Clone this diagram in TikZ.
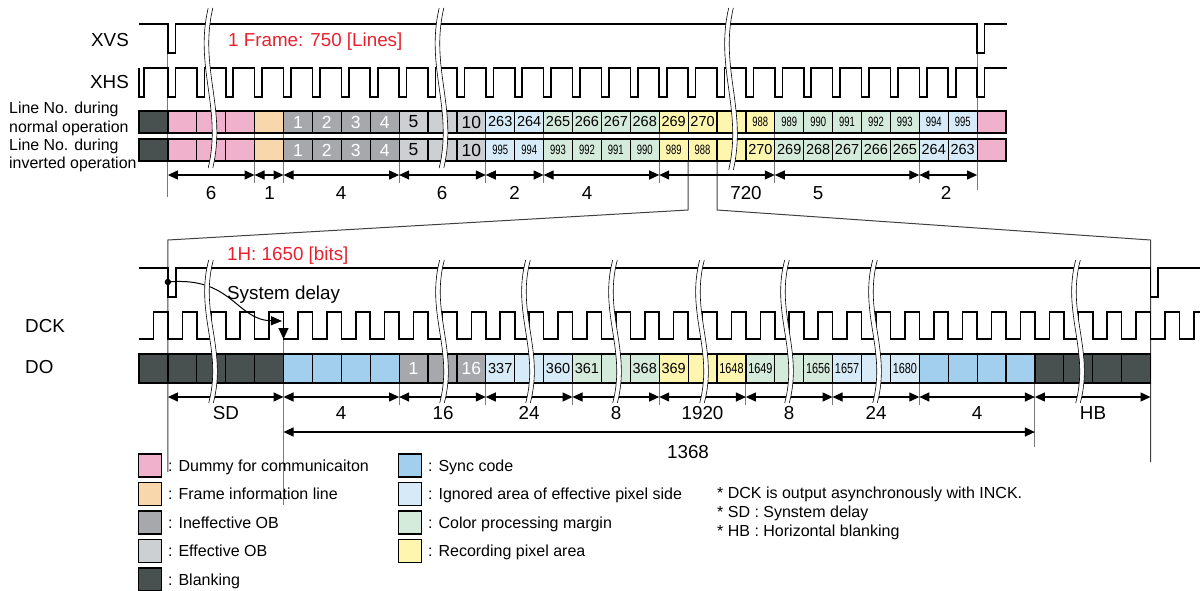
\documentclass[tikz,border=0pt]{standalone}
\usepackage{fontspec}
\setmainfont{Liberation Sans}
\usepackage{graphicx}
\usetikzlibrary{arrows.meta}
\definecolor{cBlank}{HTML}{495150}
\definecolor{cPink}{HTML}{F0B1CC}
\definecolor{cFrame}{HTML}{F8D7AC}
\definecolor{cIneff}{HTML}{A6A8AB}
\definecolor{cEff}{HTML}{CDD0D3}
\definecolor{cSync}{HTML}{A3CFEF}
\definecolor{cIgn}{HTML}{D6EBF7}
\definecolor{cCol}{HTML}{D4EADA}
\definecolor{cRec}{HTML}{FEF6AF}
\definecolor{cRed}{HTML}{E8202E}
\definecolor{cGuide}{HTML}{7A7A7A}
\newcommand\fs[1]{\fontsize{#1}{#1}\selectfont}
\newcommand\numN[1]{{\fs{14.5}#1}}
\newcommand\numC[1]{\scalebox{0.7}[1]{\fs{13.5}#1}}
\newcommand\numD[1]{\scalebox{0.75}[1]{\fs{14.5}#1}}
\newcommand\numW[1]{{\fs{17.5}\color{white}#1}}
\newcommand\numB[1]{{\fs{17.5}#1}}
\newcommand\brkmark[3]{%
  \pgfmathsetmacro\bA{#2+0.37*(#3-#2)}%
  \pgfmathsetmacro\bB{#2+0.63*(#3-#2)}%
  \draw[white, line width=4.6pt] (#1,#2) .. controls ({#1-14},\bA) and ({#1+14},\bB) .. (#1,#3);
  \draw[black, line width=0.6pt] ({#1-2.3},#2) .. controls ({#1-16.3},\bA) and ({#1+11.7},\bB) .. ({#1-2.3},#3);
  \draw[black, line width=0.6pt] ({#1+2.3},#2) .. controls ({#1-11.7},\bA) and ({#1+16.3},\bB) .. ({#1+2.3},#3);
}
\begin{document}
\begin{tikzpicture}[x=1pt,y=-1pt,
  sig/.style={line width=1.6pt},
  cellbox/.style={draw, line width=1.2pt, inner sep=0pt, outer sep=0pt, minimum width=28.9pt, anchor=north west},
  rowframe/.style={draw, line width=1.7pt},
  dimarrow/.style={line width=1.2pt, {Triangle[length=10pt,width=9pt]}-{Triangle[length=10pt,width=9pt]}},
  guide/.style={draw=cGuide, line width=1.1pt},
  zoomline/.style={draw=black!75, line width=1pt},
  txtbig/.style={font=\fs{18.8}, inner sep=0pt, text height=13.4pt, text depth=0pt},
  txtmid/.style={font=\fs{16}, inner sep=0pt, text height=11.5pt, text depth=0pt},
  txtsm/.style={font=\fs{15.9}, inner sep=0pt, text height=11.4pt, text depth=0pt},
  legsq/.style={draw, line width=1.5pt, minimum size=23pt, inner sep=0pt},
]
\useasboundingbox (0,0) rectangle (1200,590);

% ---------- guide lines (behind) ----------
\foreach \x in {254.6,283.5,399.1,485.8,543.6,659.2,774.8,919.3}
  {\draw[guide] (\x,111) -- (\x,183);}
\draw[guide] (167.9,53) -- (167.9,197);
\draw[guide] (977.1,53) -- (977.1,190);

\coordinate (zl0) at (688.1,161);
\coordinate (zl1) at (688.1,210);
\coordinate (zl2) at (167.9,240);
\coordinate (zl3) at (167.9,472);
\coordinate (zr0) at (717,161);
\coordinate (zr1) at (717,210);
\coordinate (zr2) at (1150.5,240);
\coordinate (zr3) at (1150.5,462);
\draw[zoomline] (zl0) -- (zl1) -- (zl2) -- (zl3);
\draw[zoomline] (zr0) -- (zr1) -- (zr2) -- (zr3);

\foreach \x in {399.1,485.8,572.5,659.2,745.9,832.6,919.3}
  {\draw[guide] (\x,383) -- (\x,405);}
\draw[guide] (1034.9,383) -- (1034.9,447);
\draw[guide] (283.5,312) -- (283.5,505);

% ---------- labels ----------
\node[txtbig, anchor=east] (lxvs) at (129,40) {XVS};
\node[txtbig, anchor=east] (lxhs) at (129,82) {XHS};
\node[txtbig, anchor=west, text=cRed] (lframe) at (228,40) {1 Frame: 750 [Lines]};
\node[txtsm, anchor=west] (ln1) at (9,108) {Line No. during};
\node[txtsm, anchor=west] (ln2) at (9,127) {normal operation};
\node[txtsm, anchor=west] (ln3) at (9,145) {Line No. during};
\node[txtsm, anchor=west] (ln4) at (9,163) {inverted operation};
\node[txtbig, anchor=west] (ldck) at (25,326) {DCK};
\node[txtbig, anchor=west] (ldo) at (25,367) {DO};
\node[txtbig, anchor=west, text=cRed] (l1h) at (227,254) {1H: 1650 [bits]};
\node[txtbig, anchor=west] (lsd) at (227,293) {System delay};

% ---------- top signals ----------
\draw[sig] (139,24) -- (167.9,24) -- (167.9,53) -- (175.5,53) -- (175.5,24) -- (977.1,24) -- (977.1,53) -- (984.6,53) -- (984.6,24) -- (1006.7,24);
\draw[sig] (139,68) -- (139,97) -- (144,97) -- (144,68)
  \foreach \k in {1,...,29} { -- ({139+28.9*\k},68) -- ({139+28.9*\k},97) -- ({146.5+28.9*\k},97) -- ({146.5+28.9*\k},68) }
  -- (1006.7,68);

% ---------- top rows ----------
\foreach \i/\cl/\tx in {0/cBlank/{}, 1/cPink/{}, 2/cPink/{}, 3/cPink/{}, 4/cFrame/{},
  5/cIneff/\numW{1}, 6/cIneff/\numW{2}, 7/cIneff/\numW{3}, 8/cIneff/\numW{4},
  9/cEff/\numB{5}, 10/cEff/{}, 11/cEff/\numB{10},
  12/cIgn/\numN{263}, 13/cIgn/\numN{264},
  14/cCol/\numN{265}, 15/cCol/\numN{266}, 16/cCol/\numN{267}, 17/cCol/\numN{268},
  18/cRec/\numN{269}, 19/cRec/\numN{270}, 20/cRec/{}, 21/cRec/\numC{988},
  22/cCol/\numC{989}, 23/cCol/\numC{990}, 24/cCol/\numC{991}, 25/cCol/\numC{992}, 26/cCol/\numC{993},
  27/cIgn/\numC{994}, 28/cIgn/\numC{995}, 29/cPink/{}}
  {\node[cellbox, minimum height=22pt, fill=\cl] (a\i) at ({139+28.9*\i},111) {\tx};}
\draw[rowframe] (a0.north west) rectangle (a29.south east);

\foreach \i/\cl/\tx in {0/cBlank/{}, 1/cPink/{}, 2/cPink/{}, 3/cPink/{}, 4/cFrame/{},
  5/cIneff/\numW{1}, 6/cIneff/\numW{2}, 7/cIneff/\numW{3}, 8/cIneff/\numW{4},
  9/cEff/\numB{5}, 10/cEff/{}, 11/cEff/\numB{10},
  12/cIgn/\numC{995}, 13/cIgn/\numC{994},
  14/cCol/\numC{993}, 15/cCol/\numC{992}, 16/cCol/\numC{991}, 17/cCol/\numC{990},
  18/cRec/\numC{989}, 19/cRec/\numC{988}, 20/cRec/{}, 21/cRec/\numN{270},
  22/cCol/\numN{269}, 23/cCol/\numN{268}, 24/cCol/\numN{267}, 25/cCol/\numN{266}, 26/cCol/\numN{265},
  27/cIgn/\numN{264}, 28/cIgn/\numN{263}, 29/cPink/{}}
  {\node[cellbox, minimum height=22pt, fill=\cl] (b\i) at ({139+28.9*\i},139) {\tx};}
\draw[rowframe] (b0.north west) rectangle (b29.south east);

% ---------- top dimensions ----------
\foreach \n/\x in {ta/167.9, tb/254.6, tc/283.5, td/399.1, te/485.8, tf/543.6, tg/659.2, th/774.8, ti/919.3, tj/977.1}
  {\coordinate (\n) at (\x,175);}
\draw[dimarrow] (ta) -- (tb);
\draw[dimarrow] (tb) -- (tc);
\draw[dimarrow] (tc) -- (td);
\draw[dimarrow] (td) -- (te);
\draw[dimarrow] (te) -- (tf);
\draw[dimarrow] (tf) -- (tg);
\draw[dimarrow] (tg) -- (th);
\draw[dimarrow] (th) -- (ti);
\draw[dimarrow] (ti) -- (tj);
\node[txtbig] (dt1) at (211,193) {6};
\node[txtbig] (dt2) at (269.5,193) {1};
\node[txtbig] (dt3) at (341,193) {4};
\node[txtbig] (dt4) at (442,193) {6};
\node[txtbig] (dt5) at (514.7,193) {2};
\node[txtbig] (dt6) at (587,193) {4};
\node[txtbig] (dt7) at (746,193) {720};
\node[txtbig] (dt8) at (818,193) {5};
\node[txtbig] (dt9) at (946,193) {2};

% ---------- bottom signals ----------
\draw[sig] (139,268) -- (167.9,268) -- (167.9,297) -- (175.7,297) -- (175.7,268) -- (1150.5,268) -- (1150.5,297) -- (1158,297) -- (1158,268) -- (1200,268);
\draw[sig] (139,339)
  \foreach \k in {0,...,35} { -- ({153.45+28.9*\k},339) -- ({153.45+28.9*\k},312) -- ({167.9+28.9*\k},312) -- ({167.9+28.9*\k},339) }
  -- (1193.85,339) -- (1193.85,312) -- (1200,312);

\coordinate (sdstart) at (167.9,282);
\coordinate (sdend) at (282,321);
\fill (sdstart) circle (3.2pt);
\draw[line width=1pt, -{Triangle[length=11pt,width=9pt]}] (sdstart) .. controls (232,276) and (236,320) .. (sdend);
\coordinate (edgeTop) at (283.5,312);
\coordinate (edgeBot) at (283.5,339);
\draw[line width=1.2pt, -{Triangle[length=11pt,width=10pt]}] (edgeTop) -- (edgeBot);

% ---------- DO row ----------
\foreach \i/\cl/\tx in {0/cBlank/{}, 1/cBlank/{}, 2/cBlank/{}, 3/cBlank/{}, 4/cBlank/{},
  5/cSync/{}, 6/cSync/{}, 7/cSync/{}, 8/cSync/{},
  9/cIneff/\numW{1}, 10/cIneff/{}, 11/cIneff/\numW{16},
  12/cIgn/\numN{337}, 13/cIgn/{}, 14/cIgn/\numN{360},
  15/cCol/\numN{361}, 16/cCol/{}, 17/cCol/\numN{368},
  18/cRec/\numN{369}, 19/cRec/{}, 20/cRec/\numD{1648},
  21/cCol/\numD{1649}, 22/cCol/{}, 23/cCol/\numD{1656},
  24/cIgn/\numD{1657}, 25/cIgn/{}, 26/cIgn/\numD{1680},
  27/cSync/{}, 28/cSync/{}, 29/cSync/{}, 30/cSync/{},
  31/cBlank/{}, 32/cBlank/{}, 33/cBlank/{}, 34/cBlank/{}}
  {\node[cellbox, minimum height=29pt, fill=\cl] (d\i) at ({139+28.9*\i},354) {\tx};}
\draw[rowframe] (d0.north west) rectangle (d34.south east);

% ---------- bottom dimensions ----------
\foreach \n/\x in {ba/167.9, bb/283.5, bc/399.1, bd/485.8, be/572.5, bf/659.2, bg/745.9, bh/832.6, bi/919.3, bj/1034.9, bk/1150.5}
  {\coordinate (\n) at (\x,397);}
\draw[dimarrow] (ba) -- (bb);
\draw[dimarrow] (bb) -- (bc);
\draw[dimarrow] (bc) -- (bd);
\draw[dimarrow] (bd) -- (be);
\draw[dimarrow] (be) -- (bf);
\draw[dimarrow] (bf) -- (bg);
\draw[dimarrow] (bg) -- (bh);
\draw[dimarrow] (bh) -- (bi);
\draw[dimarrow] (bi) -- (bj);
\draw[dimarrow] (bj) -- (bk);
\node[txtbig] (db1) at (226,413) {SD};
\node[txtbig] (db2) at (341,413) {4};
\node[txtbig] (db3) at (443,413) {16};
\node[txtbig] (db4) at (529,413) {24};
\node[txtbig] (db5) at (616,413) {8};
\node[txtbig] (db6) at (702.5,413) {1920};
\node[txtbig] (db7) at (789,413) {8};
\node[txtbig] (db8) at (876,413) {24};
\node[txtbig] (db9) at (977,413) {4};
\node[txtbig] (db10) at (1093,413) {HB};
\coordinate (la) at (283.5,432);
\coordinate (lb) at (1034.9,432);
\draw[dimarrow] (la) -- (lb);
\node[txtbig] (dtot) at (688,452) {1368};

% ---------- legend ----------
\foreach \cl/\tx [count=\r from 0] in {cPink/{: Dummy for communicaiton}, cFrame/{: Frame information line}, cIneff/{: Ineffective OB}, cEff/{: Effective OB}, cBlank/{: Blanking}} {
  \node[legsq, fill=\cl] (sqa\r) at (150,{465.3+28.5*\r}) {};
  \node[txtmid, anchor=west] (tqa\r) at (168,{465.3+28.5*\r}) {\tx};
}
\foreach \cl/\tx [count=\r from 0] in {cSync/{: Sync code}, cIgn/{: Ignored area of effective pixel side}, cCol/{: Color processing margin}, cRec/{: Recording pixel area}} {
  \node[legsq, fill=\cl] (sqb\r) at (410,{465.3+28.5*\r}) {};
  \node[txtmid, anchor=west] (tqb\r) at (428,{465.3+28.5*\r}) {\tx};
}
\node[txtmid, anchor=west] (nt1) at (717,493) {* DCK is output asynchronously with INCK.};
\node[txtmid, anchor=west] (nt2) at (717,512) {* SD : Synstem delay};
\node[txtmid, anchor=west] (nt3) at (717,531) {* HB : Horizontal blanking};

% ---------- break marks ----------
\brkmark{210.5}{8}{168}
\brkmark{441.5}{8}{168}
\brkmark{731}{8}{170}
\foreach \x in {211,442,528,615,702,787,875,1078}
  {\brkmark{\x}{260}{403}}
\end{tikzpicture}
\end{document}
